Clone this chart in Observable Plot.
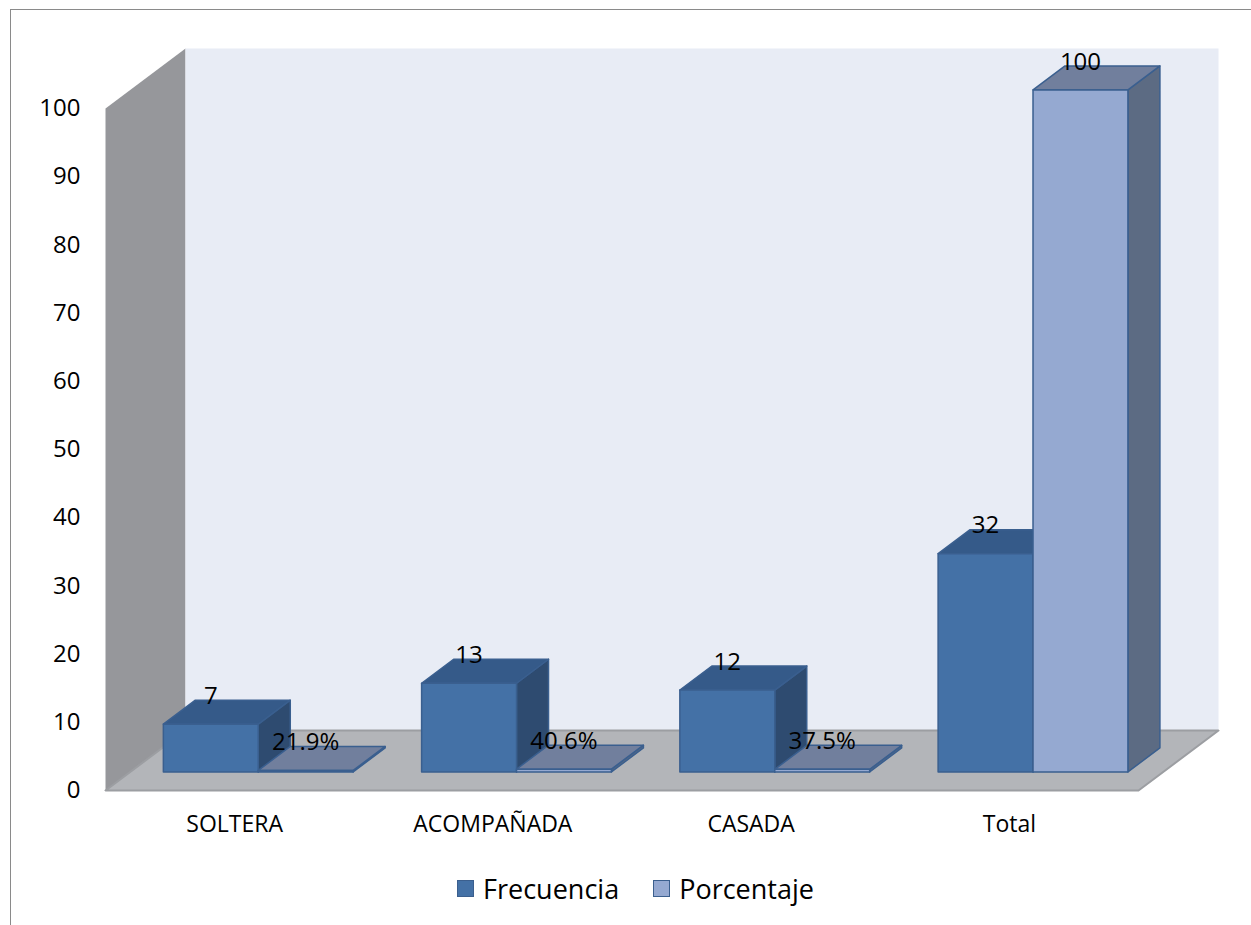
<!DOCTYPE html>
<html>
<head>
<meta charset="utf-8">
<script src="https://cdn.jsdelivr.net/npm/d3@7"></script>
<script src="https://cdn.jsdelivr.net/npm/@observablehq/plot@0.6"></script>
<style>
  html, body { margin: 0; padding: 0; background: #fff; }
  #wrap { position: relative; width: 1251px; height: 925px; overflow: hidden; font-family: "Open Sans", sans-serif; }
  #frame { position: absolute; left: 10px; top: 9px; width: 1400px; height: 1100px; border: 1px solid #8a8a8a; pointer-events: none; box-sizing: border-box; }
  #legend { height: 52px; display: flex; align-items: center; justify-content: center; padding-left: 20px; font-size: 27px; color: #000; }
  .item { display: flex; align-items: center; margin: 0 17px; }
  .sw { width: 17px; height: 17px; border: 1px solid #3b5f8e; margin-right: 9px; box-sizing: border-box; }
</style>
</head>
<body>
<div id="wrap">
  <div id="chart"></div>
  <div id="legend"></div>
  <div id="frame"></div>
</div>
<script>
// ---- data ----
const categorias = ["SOLTERA", "ACOMPAÑADA", "CASADA", "Total"];
const series = ["Frecuencia", "Porcentaje"];
const frecuencia = [7, 13, 12, 32];
const porcentaje = [0.219, 0.406, 0.375, 100];
const ticksY = [0, 10, 20, 30, 40, 50, 60, 70, 80, 90, 100];

// ---- styling / 3D projection ----
const colores = {
  Frecuencia: {front: "#4471a6", top: "#355a89", side: "#2e4b70"},
  Porcentaje: {front: "#95a9d1", top: "#717f9d", side: "#5c6b83"}
};
const DX = 80 / 258.25;   // depth as x units
const DY = 60 / 6.82;     // depth as y units
const Z0 = 0.31, Z1 = 0.71;
const PAD = 0.128, BW = 0.3675;
const P = (x, y, z) => [x + z * DX, y + z * DY];

function poly(rows, id, fill, pts) {
  pts.forEach((p, k) => rows.push({id, fill, x: p[0], y: p[1], k}));
}

const walls = [];
poly(walls, "left", "#96979b", [P(0,0,0), P(0,100,0), P(0,100,1), P(0,0,1)]);
poly(walls, "back", "#e8ecf5", [P(0,0,1), P(4,0,1), P(4,100,1), P(0,100,1)]);
const floor = [];
poly(floor, "floor", "#b3b5b9", [P(0,0,0), P(4,0,0), P(4,0,1), P(0,0,1)]);

const faces = [];
const labels = [];
const fmtLabel = (s, v) => s === "Porcentaje" && v <= 1 ? d3.format(".1%")(v) : String(v);
categorias.forEach((c, i) => {
  series.forEach((s, si) => {
    const v = (s === "Frecuencia" ? frecuencia : porcentaje)[i];
    const xl = i + PAD + si * BW, xr = xl + BW;
    const col = colores[s];
    const id = c + "-" + s;
    poly(faces, id + "-side", col.side, [P(xr,0,Z0), P(xr,0,Z1), P(xr,v,Z1), P(xr,v,Z0)]);
    poly(faces, id + "-top", col.top, [P(xl,v,Z0), P(xr,v,Z0), P(xr,v,Z1), P(xl,v,Z1)]);
    poly(faces, id + "-front", col.front, [P(xl,0,Z0), P(xr,0,Z0), P(xr,v,Z0), P(xl,v,Z0)]);
    labels.push({x: (xl + xr) / 2 + Z0 * DX, y: v + Z1 * DY, text: fmtLabel(s, v)});
  });
});

const chart = Plot.plot({
  width: 1251,
  height: 862,
  marginLeft: 105,
  marginRight: 113,
  marginTop: 108,
  marginBottom: 72,
  x: {domain: [0, 4]},
  y: {domain: [0, 100]},
  color: {type: "identity"},
  style: {fontFamily: "Open Sans, sans-serif", color: "#000", background: "transparent"},
  marks: [
    Plot.line(walls, {x: "x", y: "y", z: "id", fill: "fill", stroke: "none", curve: "linear-closed"}),
    Plot.line(floor, {x: "x", y: "y", z: "id", fill: "fill", stroke: "#9c9ea2", strokeWidth: 2, curve: "linear-closed"}),
    Plot.line(faces, {x: "x", y: "y", z: "id", fill: "fill", stroke: "#3a5f8f", strokeWidth: 1.5, strokeLinejoin: "round", curve: "linear-closed"}),
    Plot.text(labels, {x: "x", y: "y", text: "text", dy: -4, lineAnchor: "middle", fontSize: 24, fill: "#000"}),
    Plot.axisY({ticks: ticksY, tickSize: 0, tickPadding: 25, fontSize: 24, label: null}),
    Plot.axisX({ticks: categorias.map((c, i) => i + 0.5), tickFormat: d => categorias[Math.floor(d)], tickSize: 0, tickPadding: 25, fontSize: 23, label: null})
  ]
});
document.getElementById("chart").appendChild(chart);

const legend = document.getElementById("legend");
series.forEach(s => {
  const it = document.createElement("div");
  it.className = "item";
  const sw = document.createElement("div");
  sw.className = "sw";
  sw.style.background = colores[s].front;
  const t = document.createElement("span");
  t.textContent = s;
  it.appendChild(sw); it.appendChild(t);
  legend.appendChild(it);
});
</script>
</body>
</html>
